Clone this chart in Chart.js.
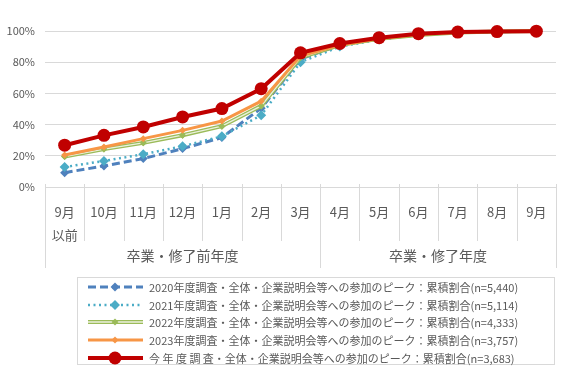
<!DOCTYPE html>
<html><head><meta charset="utf-8">
<script src="https://cdn.jsdelivr.net/npm/chart.js@4/dist/chart.umd.min.js"></script>
<style>
html,body{margin:0;padding:0;background:#fff;}
#wrap{position:relative;width:576px;height:375px;overflow:hidden;}
#c{position:absolute;left:0;top:0;}
#legend{position:absolute;left:77px;top:277px;width:478px;height:88px;border:1px solid #d9d9d9;box-sizing:border-box;font-family:'Noto Sans CJK JP',sans-serif;font-size:11px;color:#595959;}
.row{position:absolute;left:0;height:18px;display:flex;align-items:center;white-space:nowrap;}
.row svg{margin-left:9px;margin-right:5px;}
</style></head>
<body><div id="wrap"><canvas id="c" width="576" height="375"></canvas><div id="legend"></div></div>
<script>
const categories = [['9月','以前'],'10月','11月','12月','1月','2月','3月','4月','5月','6月','7月','8月','9月'];
const groupLabels = ['卒業・修了前年度','卒業・修了年度'];
const groupRanges = [[0,6],[7,12]];
const seriesNames = [
  '2020年度調査・全体・企業説明会等への参加のピーク：累積割合(n=5,440)',
  '2021年度調査・全体・企業説明会等への参加のピーク：累積割合(n=5,114)',
  '2022年度調査・全体・企業説明会等への参加のピーク：累積割合(n=4,333)',
  '2023年度調査・全体・企業説明会等への参加のピーク：累積割合(n=3,757)',
  '今 年 度 調 査・全体・企業説明会等への参加のピーク：累積割合(n=3,683)'
];
const s2020 = [9.2,13.5,18.2,24.6,31.7,50.5,82,91,95,97.5,99,99.5,100];
const s2021 = [12.8,16.7,21,26.1,32.5,46,80,90,94.5,97.5,99,99.5,100];
const s2022 = [19.5,24.3,28.3,33.2,39,52,83,91,95,97.5,99,99.6,100];
const s2023 = [20.5,25.6,31,36.3,42.3,55,84,91,95,97.8,99.2,99.6,100];
const sNow  = [26.8,33.1,38.5,44.9,50.3,63,86,92,95.7,98.3,99.3,99.6,99.9];
const yTicks = [0,20,40,60,80,100];

Chart.defaults.font.family = "'Noto Sans CJK JP', sans-serif";
Chart.defaults.color = '#595959';

const styles = [
  {color:'#4F81BD', width:3, dash:[8,4], point:'rectRot', r:4.5, order:5},
  {color:'#4BACC6', width:2.5, dash:[2,3.5], point:'rectRot', r:5, order:4},
  {color:'#9BBB59', width:4, dash:[], point:'rectRot', r:3.5, order:3, inner:'#EBF1DE'},
  {color:'#F79646', width:3, dash:[], point:'rectRot', r:3.5, order:2},
  {color:'#C00000', width:4, dash:[], point:'circle', r:6.5, order:1}
];
const seriesData = [s2020, s2021, s2022, s2023, sNow];

const datasets = seriesData.map((d,i)=>({
  label: seriesNames[i], data: d,
  borderColor: styles[i].color, backgroundColor: styles[i].color,
  borderWidth: styles[i].width, borderDash: styles[i].dash,
  pointStyle: styles[i].point, pointRadius: styles[i].r, pointHoverRadius: styles[i].r,
  pointBackgroundColor: styles[i].color, pointBorderColor: styles[i].color, pointBorderWidth: 0,
  tension: 0, order: styles[i].order, fill:false, clip:false
}));

const innerLinePlugin = {
  id:'innerLine',
  afterDatasetDraw(chart, args){
    const st = styles[args.index];
    if (!st || !st.inner) return;
    const meta = args.meta; const ctx = chart.ctx;
    ctx.save();
    ctx.strokeStyle = st.inner; ctx.lineWidth = 1.3; ctx.setLineDash([]);
    ctx.beginPath(); meta.dataset.path(ctx); ctx.stroke();
    ctx.restore();
    meta.data.forEach(p=>p.draw(ctx, chart.chartArea));
  }
};

const axisPlugin = {
  id:'groupAxis',
  afterDraw(chart){
    const x = chart.scales.x; const ctx = chart.ctx;
    const n = categories.length;
    const step = (x.getPixelForValue(1) - x.getPixelForValue(0));
    const top = chart.chartArea.bottom;
    const groupStarts = new Set(groupRanges.map(g=>g[0]));
    ctx.save();
    ctx.strokeStyle = '#d9d9d9'; ctx.lineWidth = 1;
    for (let i=0;i<=n;i++){
      const px = Math.round((i<n ? x.getPixelForValue(i) - step/2 : x.getPixelForValue(n-1) + step/2)) + 0.5;
      const isGroup = groupStarts.has(i) || i===n;
      ctx.beginPath(); ctx.moveTo(px, top-3); ctx.lineTo(px, isGroup ? top+81 : top+54); ctx.stroke();
    }
    ctx.fillStyle = '#595959';
    ctx.font = "14px 'Noto Sans CJK JP', sans-serif";
    ctx.textAlign = 'center'; ctx.textBaseline = 'middle';
    groupRanges.forEach((g,k)=>{
      const a = x.getPixelForValue(g[0]) - step/2, b = x.getPixelForValue(g[1]) + step/2;
      ctx.fillText(groupLabels[k], (a+b)/2, top+69);
    });
    ctx.restore();
  }
};

new Chart(document.getElementById('c'), {
  type:'line',
  data:{labels:categories, datasets},
  options:{
    responsive:false, animation:false, devicePixelRatio:1,
    layout:{padding:{top:31, left:0, right:20, bottom:107}},
    plugins:{legend:{display:false}, tooltip:{enabled:false}},
    scales:{
      x:{offset:true, grid:{display:false}, border:{display:false},
        ticks:{font:{size:13, lineHeight:1.8}, padding:5, maxRotation:0, autoSkip:false, color:'#595959'},
        afterFit(s){ s.height = 81; }
      },
      y:{min:0, max:100, border:{display:false},
        grid:{color:'#d9d9d9', lineWidth:1, drawTicks:false},
        ticks:{stepSize:20, padding:10, font:{size:11}, color:'#595959', callback:v=>v+'%'},
        afterBuildTicks(s){ s.ticks = yTicks.map(v=>({value:v})); },
        afterFit(s){ s.width = 45; }
      }
    }
  },
  plugins:[innerLinePlugin, axisPlugin]
});

// HTML legend
const leg = document.getElementById('legend');
const rowCenters = [8.5, 26.5, 44, 61.8, 79.5];
seriesNames.forEach((name,i)=>{
  const st = styles[i];
  const row = document.createElement('div');
  row.className='row'; row.style.top = (rowCenters[i]-9)+'px';
  let marker;
  if (st.point==='circle') marker = `<circle cx="28" cy="9" r="${st.r}" fill="${st.color}"/>`;
  else marker = `<rect x="${28-st.r*0.7}" y="${9-st.r*0.7}" width="${st.r*1.4}" height="${st.r*1.4}" fill="${st.color}" transform="rotate(45 28 9)"/>`;
  let line = `<line x1="1" y1="9" x2="56" y2="9" stroke="${st.color}" stroke-width="${st.width}" ${st.dash.length?`stroke-dasharray="${st.dash.join(' ')}"`:''}/>`;
  if (st.inner) line += `<line x1="1" y1="9" x2="56" y2="9" stroke="${st.inner}" stroke-width="1.3"/>`;
  row.innerHTML = `<svg width="57" height="18">${line}${marker}</svg><span>${name}</span>`;
  leg.appendChild(row);
});
</script></body></html>
